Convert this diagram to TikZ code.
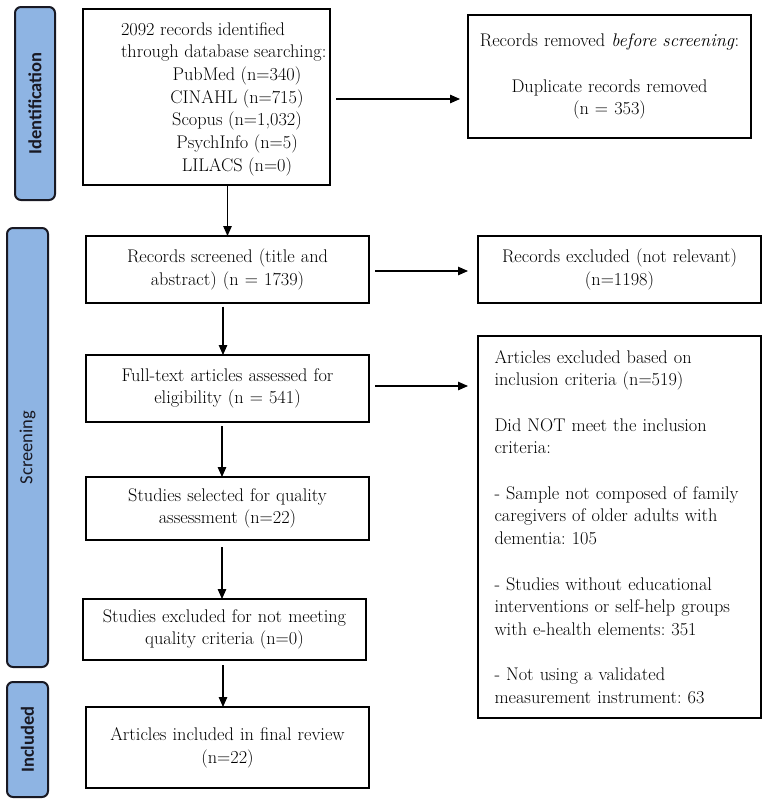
\documentclass[tikz,border=0pt]{standalone}
\usepackage{fontspec}
\newfontfamily\sidefont{Carlito}
\usetikzlibrary{arrows.meta,calc}
\definecolor{sidefill}{RGB}{142,180,227}
\definecolor{sideline}{RGB}{25,25,35}
\frenchspacing
\begin{document}
\begin{tikzpicture}[x=1pt,y=-1pt,
  every node/.style={inner sep=0pt, outer sep=0pt},
  txt/.style={font=\fontsize{18.3}{22.7}\selectfont},
  box/.style={txt, draw, line width=2pt, align=center},
  side/.style={draw=sideline, fill=sidefill, line width=2pt, rounded corners=6pt, text=sideline, font=\sidefont\fontsize{18.5}{20}\selectfont},
  arr/.style={line width=1.2pt, -{Triangle[length=10pt,width=8.5pt]}},
]
\useasboundingbox (0,0) rectangle (771,803);

% phase bars
\node[side, minimum width=40pt, minimum height=193pt] (ident) at (35,103.5) {\rotatebox{90}{\bfseries Identification}};
\node[side, minimum width=41pt, minimum height=439pt] (scrn) at (27.5,447.5) {\rotatebox{90}{Screening}};
\node[side, minimum width=41pt, minimum height=115pt] (incl) at (27.5,739.5) {\rotatebox{90}{\bfseries Included}};

% boxes
\node[box, minimum width=247pt, minimum height=176pt] (idbox) at (206.5,97) {};
\node[txt, align=left, anchor=north west] (idtext) at (121,22.3) {2092 records identified\\
through database searching:\\
\makebox[232pt][c]{PubMed (n=340)}\\
\makebox[232pt][c]{CINAHL (n=715)}\\
\makebox[232pt][c]{Scopus (n=1,032)}\\
\makebox[232pt][c]{PsychInfo (n=5)}\\
\makebox[232pt][c]{LILACS (n=0)}};

\node[box, text width=283pt, minimum height=123pt] (rembox) at (609.5,76.5) {Records removed \textit{before screening}:\\[22.7pt]Duplicate records removed\\(n = 353)};

\node[box, text width=283pt, minimum height=67pt] (scr) at (227.5,269.5) {Records screened (title and\\abstract) (n = 1739)};
\node[box, text width=283pt, minimum height=67pt] (exc) at (619.5,269.5) {Records excluded (not relevant)\\(n=1198)};

\node[box, text width=283pt, minimum height=67pt] (full) at (227.5,388.5) {Full-text articles assessed for\\eligibility (n = 541)};

\node[box, align=left, text width=250pt, inner xsep=16.5pt, minimum height=382pt] (crit) at (619.5,527) {Articles excluded based on\\
inclusion criteria (n=519)\\[22.7pt]
Did NOT meet the inclusion\\
criteria:\\[22.7pt]
- Sample not composed of family\\
caregivers of older adults with\\
dementia: 105\\[22.7pt]
- Studies without educational\\
interventions or self-help groups\\
with e-health elements: 351\\[22.7pt]
- Not using a validated\\
measurement instrument: 63};

\node[box, text width=283pt, minimum height=63pt] (sel) at (227.5,508.5) {Studies selected for quality\\assessment (n=22)};
\node[box, text width=283pt, minimum height=61pt] (qex) at (224.5,629.5) {Studies excluded for not meeting\\quality criteria (n=0)};
\node[box, text width=283pt, minimum height=81pt] (inc) at (227.5,747.5) {Articles included in final review\\(n=22)};

% connectors
\draw[arr] (scr.north |- idbox.south) -- (scr.north);
\draw[arr, shorten <=6pt, shorten >=8pt] ([yshift=-2pt]idbox.east) -- ([yshift=-2pt]idbox.east -| rembox.west);
\draw[arr, shorten <=6pt, shorten >=10pt] ([yshift=-1.5pt]scr.east) -- ([yshift=-1.5pt]scr.east -| exc.west);
\draw[arr, shorten <=3.5pt] ([xshift=-4.5pt]scr.south) -- ([xshift=-4.5pt]full.north);
\draw[arr, shorten <=6pt, shorten >=10pt] ([yshift=2.5pt]full.east) -- ([yshift=2.5pt]full.east -| crit.west);
\draw[arr, shorten <=4pt] ([xshift=-5.5pt]full.south) -- ([xshift=-5.5pt]sel.north);
\draw[arr, shorten <=7pt] ([xshift=-5.5pt]sel.south) -- ([xshift=-5.5pt]sel.south |- qex.north);
\draw[arr, shorten <=5pt] ([xshift=-1.5pt]qex.south) -- ([xshift=-1.5pt]qex.south |- inc.north);
\end{tikzpicture}
\end{document}
